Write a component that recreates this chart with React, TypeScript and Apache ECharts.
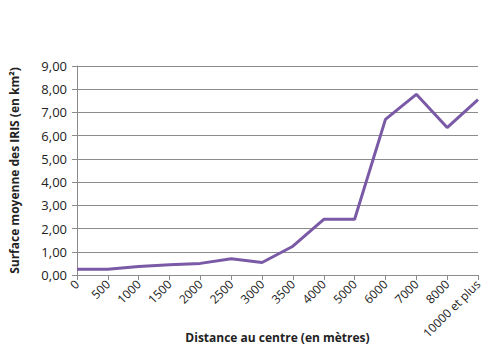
import React, { useEffect, useRef } from "react";
import * as echarts from "echarts";

const categories = ["0", "500", "1000", "1500", "2000", "2500", "3000", "3500", "4000", "5000", "6000", "7000", "8000", "10000 et plus"];
const surfaces = [0.25, 0.25, 0.37, 0.44, 0.5, 0.7, 0.54, 1.24, 2.4, 2.4, 6.7, 7.78, 6.35, 7.55];

const FONT = "'Open Sans', 'Liberation Sans', sans-serif";

export default function App() {
  const ref = useRef<HTMLDivElement>(null);
  useEffect(() => {
    if (!ref.current) return;
    const chart = echarts.init(ref.current, undefined, { renderer: "svg" });
    chart.setOption({
      animation: false,
      backgroundColor: "#ffffff",
      grid: { left: 77, right: 22, top: 66, bottom: 83, containLabel: false },
      xAxis: {
        type: "category",
        data: categories,
        boundaryGap: false,
        name: "Distance au centre (en mètres)",
        nameLocation: "middle",
        nameGap: 56,
        nameMoveOverlap: false,
        nameTextStyle: { fontFamily: FONT, fontWeight: "bold", fontSize: 12, color: "#222" },
        axisLine: { lineStyle: { color: "#8c8c8c", width: 1 } },
        axisTick: { show: true, alignWithLabel: true, length: 5, lineStyle: { color: "#8c8c8c" } },
        axisLabel: { rotate: 45, fontFamily: FONT, fontSize: 12, color: "#222", margin: 7, interval: 0 },
        splitLine: { show: false },
      },
      yAxis: {
        type: "value",
        min: 0,
        max: 9,
        interval: 1,
        name: "Surface moyenne des IRIS (en km²)",
        nameLocation: "middle",
        nameGap: 57,
        nameMoveOverlap: false,
        nameRotate: 90,
        nameTextStyle: { fontFamily: FONT, fontWeight: "bold", fontSize: 12, color: "#222" },
        axisLine: { show: true, lineStyle: { color: "#8c8c8c", width: 1 } },
        axisTick: { show: true, length: 5, lineStyle: { color: "#8c8c8c" } },
        axisLabel: {
          fontFamily: FONT,
          fontSize: 13,
          color: "#222",
          margin: 10,
          formatter: (v: number) => v.toFixed(2).replace(".", ","),
        },
        splitLine: { show: true, lineStyle: { color: "#8c8c8c", width: 1 } },
      },
      series: [
        {
          type: "line",
          data: surfaces,
          symbol: "none",
          lineStyle: { color: "#7a5aa6", width: 3 },
          itemStyle: { color: "#7a5aa6" },
        },
      ],
    });
    return () => chart.dispose();
  }, []);
  return <div ref={ref} style={{ position: "absolute", left: 0, top: 0, width: 500, height: 358 }} />;
}
